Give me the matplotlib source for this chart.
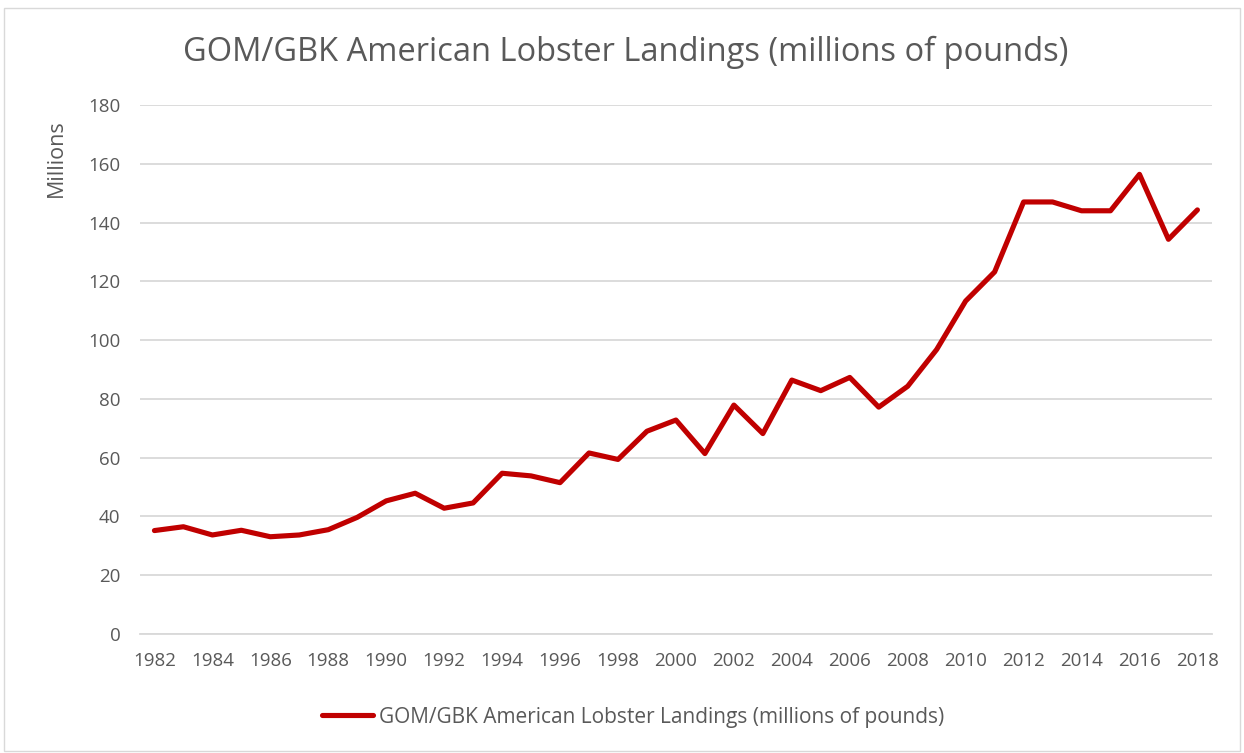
import matplotlib.pyplot as plt
from matplotlib.patches import Rectangle

plt.rc("font", family=["Open Sans", "DejaVu Sans"])

years = list(range(1982, 2019))
landings = [35.2, 36.5, 33.7, 35.3, 33.1, 33.7, 35.5, 39.7, 45.3, 47.9,
            42.8, 44.6, 54.7, 53.8, 51.5, 61.6, 59.4, 69.0, 72.8, 61.4,
            77.9, 68.2, 86.4, 82.8, 87.3, 77.2, 84.3, 96.8, 113.3, 123.2,
            147.0, 147.0, 144.0, 144.0, 156.4, 134.3, 144.3]
series_name = "GOM/GBK American Lobster Landings (millions of pounds)"

grey = "#595959"
fig = plt.figure(figsize=(12.44, 7.53), dpi=100)
ax = fig.add_axes([0.1125, 0.158, 0.8617, 0.7026])

ax.plot(years, landings, color="#C00000", linewidth=3.7, label=series_name,
        solid_joinstyle="round", solid_capstyle="round")

ax.set_xlim(1981.5, 2018.5)
ax.set_ylim(0, 180)
ax.set_xticks(years[::2])
ax.set_yticks(range(0, 181, 20))
ax.tick_params(length=0, labelsize=13.5, labelcolor=grey)
ax.tick_params(axis="x", pad=13)
ax.tick_params(axis="y", pad=14)
ax.grid(axis="y", color="#d9d9d9", linewidth=1.3)
ax.set_axisbelow(True)
for s in ["top", "right", "left"]:
    ax.spines[s].set_visible(False)
ax.spines["bottom"].set_color("#d9d9d9")
ax.spines["bottom"].set_linewidth(1.3)

ax.set_ylabel("Millions", fontsize=15.5, color=grey)
ax.yaxis.set_label_coords(-0.068, 0.9)

fig.text(0.503, 0.93, series_name, ha="center", va="center",
         fontsize=23.5, color=grey)

ax.legend(loc="center", bbox_to_anchor=(0.46, -0.157), frameon=False,
          fontsize=15, labelcolor=grey, handlelength=2.45, handletextpad=0.25)

# thin frame around the whole chart
fig.patches.append(Rectangle((0.003, 0.003), 0.994, 0.987, transform=fig.transFigure,
                             fill=False, edgecolor="#d9d9d9", linewidth=1))

plt.savefig("out.png")
